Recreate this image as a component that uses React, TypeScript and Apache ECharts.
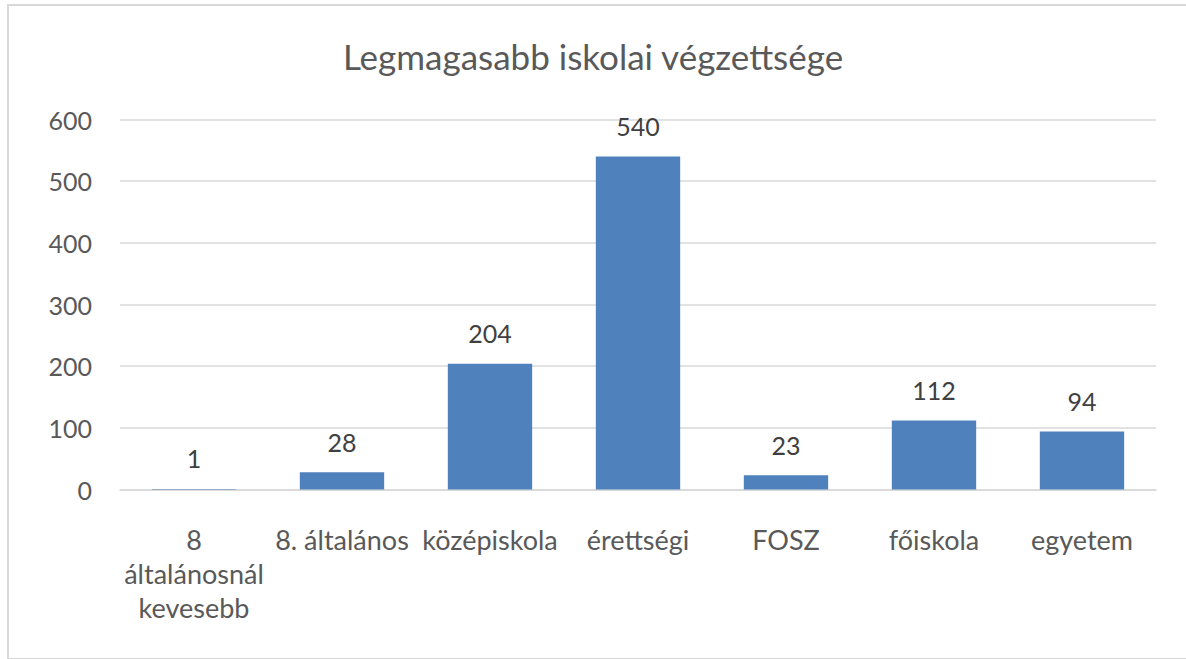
import React, { useEffect, useRef } from "react";
import * as echarts from "echarts";

const titleText = "Legmagasabb iskolai végzettsége";
const categories = [
  "8\náltalánosnál\nkevesebb",
  "8. általános",
  "középiskola",
  "érettségi",
  "FOSZ",
  "főiskola",
  "egyetem",
];
const values = [1, 28, 204, 540, 23, 112, 94];
const yMin = 0;
const yMax = 600;
const yStep = 100;

export default function App() {
  const ref = useRef<HTMLDivElement>(null);
  useEffect(() => {
    if (!ref.current) return;
    const chart = echarts.init(ref.current, undefined, { renderer: "svg" });
    const font = "Lato, 'Noto Sans', sans-serif";
    chart.setOption({
      animation: false,
      backgroundColor: "#ffffff",
      title: {
        text: titleText,
        left: "center",
        top: 33,
        textStyle: { fontFamily: font, fontSize: 35, fontWeight: "normal", color: "#595959" },
      },
      graphic: [
        {
          type: "rect",
          shape: { x: 8, y: 5, width: 1190, height: 654 },
          style: { fill: "none", stroke: "#d9d9d9", lineWidth: 2 },
          silent: true,
        },
      ],
      grid: { left: 120, right: 30, top: 119.5, bottom: 169.5, containLabel: false },
      xAxis: {
        type: "category",
        data: categories,
        axisLine: { show: true, lineStyle: { color: "#d9d9d9", width: 1.5 } },
        axisTick: { show: false },
        axisLabel: {
          interval: 0,
          margin: 33,
          fontFamily: font,
          fontSize: 27,
          lineHeight: 34,
          color: "#595959",
        },
      },
      yAxis: {
        type: "value",
        min: yMin,
        max: yMax,
        interval: yStep,
        axisLine: { show: false },
        axisTick: { show: false },
        splitLine: { lineStyle: { color: "#d9d9d9", width: 1.5 } },
        axisLabel: { margin: 28, fontFamily: font, fontSize: 25, color: "#595959" },
      },
      series: [
        {
          type: "bar",
          data: values,
          barCategoryGap: "43%",
          itemStyle: { color: "#4f81bd" },
          label: {
            show: true,
            position: "top",
            distance: 18,
            fontFamily: font,
            fontSize: 25,
            color: "#404040",
          },
        },
      ],
    });
    return () => chart.dispose();
  }, []);
  return (
    <div
      ref={ref}
      style={{ position: "fixed", left: 0, top: 0, width: 1186, height: 659 }}
    />
  );
}
